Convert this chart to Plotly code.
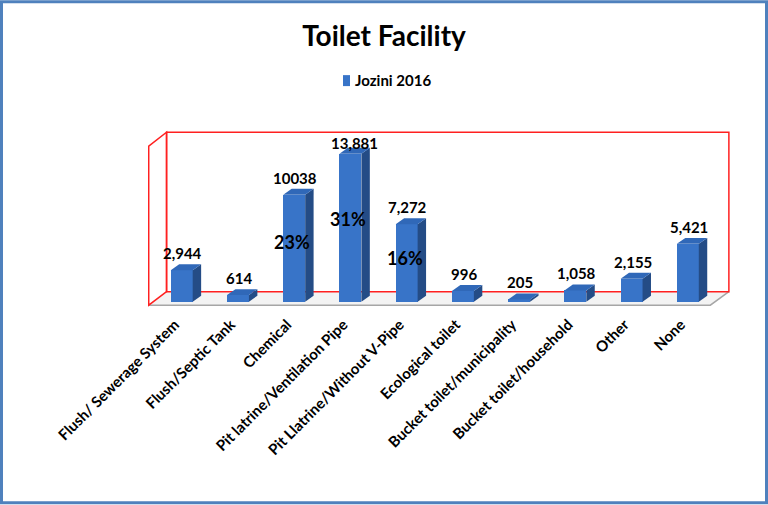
import plotly.graph_objects as go

# Donnees
categories = [
    "Flush/ Sewerage System", "Flush/Septic Tank", "Chemical",
    "Pit latrine/Ventilation Pipe", "Pit Llatrine/Without V-Pipe",
    "Ecological toilet", "Bucket toilet/municipality",
    "Bucket toilet/household", "Other", "None",
]
values = [2944, 614, 10038, 13881, 7272, 996, 205, 1058, 2155, 5421]
value_labels = ["2,944", "614", "10038", "13,881", "7,272", "996", "205",
                "1,058", "2,155", "5,421"]
pct_labels = ["", "", "23%", "31%", "16%", "", "", "", "", ""]
series_name = "Jozini 2016"

FONT = "Lato, 'Open Sans', sans-serif"
FRONT, TOPC, SIDE = "#3874C8", "#3068B8", "#244C86"
W = 0.39      # largeur de barre
DX = 0.15     # profondeur en x (unites categorie)
DY = 560      # profondeur en y (unites valeur)

# decor 3D (mur du fond, paroi gauche, sol)
FL, FR = -0.587, 9.40     # bord avant du sol
BL, BR = -0.27, 9.73      # bord arriere
FY, BY = -330, 935        # y du bord avant / arriere du sol
TOP, LTOP = 15890, 14580

W_IMG, H_IMG = 768, 505
ML, MR, MT, MB = 148, 38, 130, 197.6
PW, PH = W_IMG - ML - MR, H_IMG - MT - MB


def px_x(p):
    return (p - ML) / PW


def px_y(p):
    return (H_IMG - MB - p) / PH


x_idx = list(range(len(categories)))

fig = go.Figure()
fig.add_trace(go.Bar(
    x=x_idx, y=values, width=W, name=series_name,
    marker=dict(color=FRONT, line=dict(width=0)),
    showlegend=False, hoverinfo="skip",
))

shapes = []
# sol
shapes.append(dict(type="path", layer="below", xref="x", yref="y",
                   path=f"M {FL},{FY} L {FR},{FY} L {BR},{BY} L {BL},{BY} Z",
                   fillcolor="#F3F3F3", line=dict(width=0)))
shapes.append(dict(type="path", layer="below", xref="x", yref="y",
                   path=f"M {FL},{FY} L {FR},{FY} L {BR},{BY}",
                   line=dict(color="#A6A6A6", width=1.5)))
# mur du fond
shapes.append(dict(type="rect", layer="below", xref="x", yref="y",
                   x0=BL, x1=BR, y0=BY, y1=TOP,
                   line=dict(color="#FF2020", width=1.5)))
# paroi gauche
shapes.append(dict(type="path", layer="below", xref="x", yref="y",
                   path=f"M {FL},{FY} L {FL},{LTOP} L {BL},{TOP} L {BL},{BY} Z",
                   line=dict(color="#FF2020", width=1.5)))

# faces laterales et superieures des barres
for i, v in enumerate(values):
    xl, xr = i - W / 2, i + W / 2
    shapes.append(dict(type="path", xref="x", yref="y",
                       path=f"M {xr},0 L {xr},{v} L {xr+DX},{v+DY} L {xr+DX},{DY} Z",
                       fillcolor=SIDE, line=dict(width=0)))
    shapes.append(dict(type="path", xref="x", yref="y",
                       path=f"M {xl},{v} L {xr},{v} L {xr+DX},{v+DY} L {xl+DX},{v+DY} Z",
                       fillcolor=TOPC, line=dict(width=0)))

# bordure bleue autour de l'image
shapes.append(dict(type="rect", xref="paper", yref="paper",
                   x0=px_x(1.5), x1=px_x(W_IMG - 1.5),
                   y0=px_y(H_IMG - 1.5), y1=px_y(1.5),
                   line=dict(color="#4F81BD", width=3)))
# carre de legende
shapes.append(dict(type="rect", xref="paper", yref="paper",
                   x0=px_x(343), x1=px_x(350), y0=px_y(86), y1=px_y(75),
                   fillcolor=FRONT, line=dict(width=0)))

annotations = []
for i, (v, lab) in enumerate(zip(values, value_labels)):
    top = v == max(values)
    annotations.append(dict(x=i, y=v, text=lab, showarrow=False,
                            xshift=4 if top else 1, yshift=11 if top else 17,
                            font=dict(family=FONT, size=15, color="black", weight="bold")))
for i, (v, p) in enumerate(zip(values, pct_labels)):
    if p:
        annotations.append(dict(x=i, y=v * 0.56, text=p, showarrow=False, xshift=-2,
                                font=dict(family=FONT, size=18, color="black", weight="bold")))
# legende
annotations.append(dict(x=px_x(353), y=px_y(80), xref="paper", yref="paper",
                        xanchor="left", yanchor="middle", text=series_name,
                        showarrow=False,
                        font=dict(family=FONT, size=15, color="black", weight="bold")))

fig.update_layout(
    width=W_IMG, height=H_IMG,
    margin=dict(l=ML, r=MR, t=MT, b=MB),
    paper_bgcolor="white", plot_bgcolor="rgba(0,0,0,0)",
    title=dict(text="Toilet Facility", x=0.5, xref="container", xanchor="center",
               y=1 - 36 / H_IMG, yref="container", yanchor="middle",
               font=dict(family=FONT, size=28, color="black", weight="bold")),
    showlegend=False,
    shapes=shapes, annotations=annotations,
    xaxis=dict(range=[-0.6, 9.75], tickvals=x_idx, ticktext=categories,
               tickangle=-45, showgrid=False, zeroline=False, showline=False,
               ticks="", ticklabelshift=-7, ticklabelstandoff=5,
               tickfont=dict(family=FONT, size=15, color="black", weight="bold")),
    yaxis=dict(range=[-500, 16100], visible=False, showgrid=False, zeroline=False),
    bargap=0,
)

fig.write_html("out.html", config={"displayModeBar": False},
               post_script="document.body.style.margin='0';")
